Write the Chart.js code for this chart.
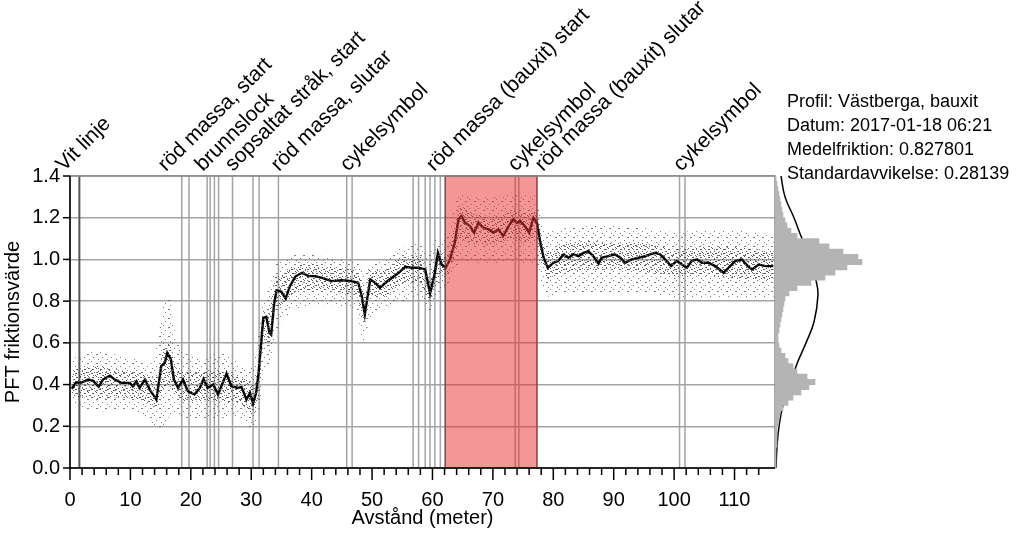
<!DOCTYPE html>
<html>
<head>
<meta charset="utf-8">
<script src="https://cdn.jsdelivr.net/npm/chart.js@4.4.0/dist/chart.umd.min.js"></script>
<style>
  html, body { margin: 0; padding: 0; background: #fff; overflow: hidden; }
  #wrap { position: relative; width: 1024px; height: 537px; }
  canvas { position: absolute; left: 0; top: 0; }
  #hist { pointer-events: none; }
  #info {
    position: absolute; left: 787px; top: 89px; white-space: nowrap;
    font: 18px "Liberation Sans", Arial, sans-serif; line-height: 24px; color: #000;
  }
</style>
</head>
<body>
<div id="wrap">
  <canvas id="main" width="1024" height="537"></canvas>
  <canvas id="hist" width="1024" height="537"></canvas>
  <div id="info">
    Profil: Västberga, bauxit<br>
    Datum: 2017-01-18 06:21<br>
    Medelfriktion: 0.827801<br>
    Standardavvikelse: 0.28139
  </div>
</div>
<script>
// running mean of the friction value (m, value)
const distance = [
  0.3, 1.0, 1.9, 3.0, 3.8, 4.75, 5.46, 6.6, 7.4, 8.5, 9.9, 10.4, 11.0, 11.5, 12.4, 13.2, 14.3,
  15.1, 15.7, 16.1, 16.7, 17.2, 17.9, 18.7, 19.5, 20.6, 21.5, 22.1, 22.8, 23.7, 24.5, 25.9,
  26.7, 27.8, 28.4, 29.2, 29.8, 30.3, 30.8, 31.2, 32.0, 32.5, 33.0, 33.3, 33.8, 34.2, 35.0,
  35.7, 36.4, 37.3, 38.4, 39.5, 40.6, 41.7, 43.3, 45.0, 46.6, 47.7, 48.3, 48.8, 49.7, 50.5,
  51.3, 52.2, 53.3, 54.4, 55.5, 56.6, 57.7, 58.8, 59.6, 60.4, 60.9, 61.5, 62.2, 62.9, 63.7,
  64.3, 64.8, 65.4, 66.2, 66.9, 67.6, 68.4, 69.3, 70.1, 70.9, 71.7, 72.6, 73.4, 74.0, 74.5,
  75.3, 76.0, 76.7, 77.3, 77.8, 78.4, 79.1, 80.0, 80.8, 81.7, 82.5, 83.3, 84.2, 85.0, 85.8,
  86.6, 87.5, 88.0, 89.1, 90.2, 91.1, 91.9, 93.0, 94.1, 95.2, 96.0, 96.9, 97.7, 98.5, 99.5,
  100.4, 101.3, 102.1, 102.9, 103.8, 104.6, 105.7, 106.8, 108.2, 109.0, 110.1, 111.2, 112.2,
  112.9, 114.0, 115.1, 116.4
];
const friction = [
  0.38, 0.41, 0.41, 0.424, 0.419, 0.389, 0.424, 0.443, 0.424, 0.408, 0.408, 0.392, 0.416, 0.384, 0.424, 0.376, 0.328,
  0.488, 0.504, 0.552, 0.52, 0.424, 0.384, 0.424, 0.368, 0.352, 0.384, 0.427, 0.384, 0.40, 0.352, 0.453,
  0.392, 0.384, 0.389, 0.328, 0.36, 0.31, 0.36, 0.45, 0.72, 0.725, 0.65, 0.64, 0.79, 0.852, 0.845,
  0.812, 0.872, 0.918, 0.936, 0.92, 0.92, 0.912, 0.896, 0.90, 0.896, 0.888, 0.824, 0.736, 0.904, 0.888,
  0.864, 0.888, 0.912, 0.936, 0.965, 0.96, 0.96, 0.952, 0.836, 0.936, 1.032, 0.976, 0.96, 1.0, 1.08,
  1.192, 1.208, 1.176, 1.16, 1.128, 1.176, 1.152, 1.144, 1.128, 1.144, 1.112, 1.16, 1.192, 1.176, 1.184,
  1.16, 1.128, 1.20, 1.176, 1.088, 1.008, 0.96, 0.984, 0.992, 1.024, 1.008, 1.024, 1.016, 1.032, 1.04,
  1.016, 0.98, 1.008, 1.016, 1.024, 1.008, 0.984, 1.0, 1.008, 1.016, 1.024, 1.032, 1.024, 1.0, 0.968,
  0.992, 0.976, 0.96, 0.992, 1.0, 0.984, 0.984, 0.968, 0.936, 0.96, 0.992, 1.0, 0.968,
  0.952, 0.976, 0.968, 0.968
];

// extent of the scatter of single measurements
const bandX   = [0.3, 2, 5, 8, 11, 13.5, 14.5, 15.5, 16.5, 17.5, 19, 22, 25, 28, 29.5, 30.5, 31.2, 32, 33, 34, 35, 37, 40, 44, 47.5, 48.3, 48.8, 49.5, 52, 55, 58, 59.6, 60.5, 61.5, 62.5, 63.5, 64.5, 67, 70, 73, 76, 77.3, 78, 79, 82, 86, 90, 95, 100, 105, 110, 116.5];
const outerLo = [0.30, 0.28, 0.27, 0.28, 0.27, 0.22, 0.18, 0.20, 0.25, 0.26, 0.24, 0.24, 0.24, 0.25, 0.20, 0.18, 0.25, 0.45, 0.50, 0.62, 0.70, 0.76, 0.78, 0.78, 0.76, 0.62, 0.60, 0.72, 0.76, 0.80, 0.82, 0.74, 0.82, 0.86, 0.88, 0.92, 1.00, 0.98, 0.98, 0.99, 0.98, 0.98, 0.88, 0.82, 0.84, 0.84, 0.84, 0.84, 0.82, 0.82, 0.82, 0.82];
const outerHi = [0.52, 0.55, 0.56, 0.54, 0.52, 0.50, 0.60, 0.80, 0.82, 0.62, 0.55, 0.52, 0.56, 0.50, 0.48, 0.50, 0.65, 0.82, 0.86, 0.98, 1.00, 1.02, 1.03, 1.00, 1.00, 0.95, 0.92, 0.98, 1.00, 1.06, 1.08, 1.02, 1.10, 1.08, 1.12, 1.25, 1.32, 1.30, 1.30, 1.32, 1.32, 1.30, 1.18, 1.14, 1.15, 1.16, 1.16, 1.15, 1.13, 1.14, 1.14, 1.12];
const innerLo = [0.34, 0.34, 0.33, 0.34, 0.33, 0.30, 0.28, 0.38, 0.40, 0.34, 0.32, 0.32, 0.32, 0.31, 0.27, 0.26, 0.32, 0.60, 0.58, 0.76, 0.78, 0.84, 0.85, 0.84, 0.83, 0.74, 0.68, 0.82, 0.82, 0.88, 0.89, 0.78, 0.88, 0.92, 0.92, 1.00, 1.10, 1.07, 1.07, 1.10, 1.08, 1.10, 1.00, 0.90, 0.94, 0.95, 0.95, 0.94, 0.92, 0.92, 0.91, 0.90];
const innerHi = [0.47, 0.48, 0.49, 0.47, 0.46, 0.44, 0.44, 0.58, 0.60, 0.48, 0.46, 0.46, 0.47, 0.44, 0.42, 0.40, 0.50, 0.76, 0.74, 0.92, 0.92, 0.97, 0.98, 0.96, 0.95, 0.90, 0.82, 0.95, 0.95, 1.01, 1.02, 0.90, 1.00, 1.03, 1.02, 1.14, 1.26, 1.22, 1.20, 1.24, 1.22, 1.24, 1.12, 1.03, 1.08, 1.09, 1.08, 1.08, 1.05, 1.06, 1.06, 1.04];

// event markers along the profile (m)
const markerX = [1.55, 18.5, 19.7, 22.7, 23.2, 23.9, 24.6, 26.9, 30.3, 31.3, 34.5, 45.8, 46.7, 56.8, 57.7, 58.8, 59.6, 60.4, 61.3, 62.1, 73.7, 74.3, 77.3, 100.9, 101.8];
const eventLabels = ["Vit linje", "röd massa, start", "brunnslock", "sopsaltat stråk, start", "röd massa, slutar", "cykelsymbol", "röd massa (bauxit) start", "cykelsymbol", "röd massa (bauxit) slutar", "cykelsymbol"];
const eventLabelAt = [-1.0, 15.9, 22.0, 27.0, 34.6, 46.0, 60.3, 73.8, 78.3, 101.2];
const bauxitSpan = [62.1, 77.3];

// histogram of all values (bin start, bar length) and fitted normal curve
const histBin = [0.0, 0.025, 0.05, 0.075, 0.1, 0.125, 0.15, 0.175, 0.2, 0.225, 0.25, 0.275, 0.3, 0.325, 0.35, 0.375, 0.4, 0.425, 0.45, 0.475, 0.5, 0.525, 0.55, 0.575, 0.6, 0.625, 0.65, 0.675, 0.7, 0.725, 0.75, 0.775, 0.8, 0.825, 0.85, 0.875, 0.9, 0.925, 0.95, 0.975, 1.0, 1.025, 1.05, 1.075, 1.1, 1.125, 1.15, 1.175, 1.2, 1.225, 1.25, 1.275, 1.3, 1.325, 1.35, 1.375];
const histCount = [1, 1, 1, 1, 2, 2, 2, 2, 3, 4, 5, 8, 13, 18, 26, 34, 40, 32, 22, 18, 13, 10, 6, 4, 3, 3, 4, 5, 6, 7, 8, 9, 10, 14, 22, 36, 50, 60, 72, 87, 83, 68, 54, 44, 22, 16, 12, 10, 8, 7, 6, 5, 4, 3, 2, 1];
const curveVal = [0.0, 0.1, 0.2, 0.3, 0.4, 0.5, 0.6, 0.7, 0.83, 0.9, 1.0, 1.1, 1.2, 1.3, 1.4];
const curveLen = [1, 2, 4, 8, 15, 22, 31, 39, 43, 41, 36, 27, 19, 10, 6];

const FONT = '"Liberation Sans", Arial, sans-serif';

function makePattern(size, dots, color) {
  const c = document.createElement('canvas');
  c.width = size;
  c.height = size;
  const g = c.getContext('2d');
  g.fillStyle = color;
  dots.forEach(([x, y, w]) => g.fillRect(x, y, w || 1, 1));
  return g.createPattern(c, 'repeat');
}

const sparseDots = makePattern(9, [[1, 1], [6, 3, 2], [3, 6], [8, 8]], 'rgba(100,100,100,0.85)');
const denseDots = makePattern(8, [[0, 0], [4, 1, 2], [2, 3], [6, 4], [3, 5, 2], [1, 6], [7, 7]], 'rgba(60,60,60,0.85)');

const pts = (xs, ys) => xs.map((x, i) => ({ x, y: ys[i] }));
const isMajorY = v => Math.round(v * 10) % 2 === 0;

const decor = {
  id: 'decor',
  beforeDatasetsDraw(chart) {
    const { ctx, chartArea: a, scales: { x } } = chart;
    ctx.save();
    markerX.forEach((m, i) => {
      const px = x.getPixelForValue(m);
      ctx.strokeStyle = i === 0 ? '#555' : '#a3a3a3';
      ctx.lineWidth = i === 0 ? 2 : 1.5;
      ctx.beginPath();
      ctx.moveTo(px, a.top);
      ctx.lineTo(px, a.bottom);
      ctx.stroke();
    });
    ctx.restore();
  },
  afterDatasetsDraw(chart) {
    const { ctx, chartArea: a, scales: { x, y } } = chart;
    ctx.save();
    // bauxit section
    const x0 = x.getPixelForValue(bauxitSpan[0]);
    const x1 = x.getPixelForValue(bauxitSpan[1]);
    ctx.fillStyle = 'rgba(234,45,45,0.5)';
    ctx.fillRect(x0, a.top, x1 - x0, a.bottom - a.top);
    ctx.strokeStyle = 'rgba(110,40,40,0.9)';
    ctx.lineWidth = 1;
    ctx.strokeRect(x0, a.top, x1 - x0, a.bottom - a.top);

    // frame
    ctx.strokeStyle = '#8a8a8a';
    ctx.lineWidth = 1.5;
    ctx.strokeRect(a.left, a.top, a.right - a.left, a.bottom - a.top);
    ctx.strokeStyle = '#000';
    ctx.lineWidth = 1.5;
    ctx.beginPath();
    ctx.moveTo(a.left, a.top);
    ctx.lineTo(a.left, a.bottom);
    ctx.lineTo(a.right, a.bottom);
    ctx.stroke();

    // tick marks
    ctx.lineWidth = 1.5;
    x.ticks.forEach(t => {
      if (Math.abs(t.value - Math.round(t.value)) > 0.01) return;
      const px = x.getPixelForValue(t.value);
      const len = Math.round(t.value) % 10 === 0 ? 12 : 7;
      ctx.beginPath();
      ctx.moveTo(px, a.bottom);
      ctx.lineTo(px, a.bottom + len);
      ctx.stroke();
    });
    y.ticks.forEach(t => {
      const py = y.getPixelForValue(t.value);
      ctx.beginPath();
      if (isMajorY(t.value)) {
        ctx.moveTo(a.left - 7, py);
        ctx.lineTo(a.left, py);
      } else {
        ctx.moveTo(a.left, py);
        ctx.lineTo(a.left + 7, py);
      }
      ctx.stroke();
    });

    // event labels
    ctx.fillStyle = '#000';
    ctx.font = '21px ' + FONT;
    ctx.textAlign = 'left';
    ctx.textBaseline = 'alphabetic';
    eventLabels.forEach((txt, i) => {
      ctx.save();
      ctx.translate(x.getPixelForValue(eventLabelAt[i]), a.top - 4);
      ctx.rotate(-Math.PI / 4);
      ctx.fillText(txt, 0, 0);
      ctx.restore();
    });
    ctx.restore();
  }
};

const bandStyle = { pointRadius: 0, borderWidth: 0, borderColor: 'rgba(0,0,0,0)', tension: 0 };

const mainChart = new Chart(document.getElementById('main'), {
  type: 'line',
  data: {
    datasets: [
      { ...bandStyle, data: pts(bandX, outerHi), fill: '+1', backgroundColor: sparseDots },
      { ...bandStyle, data: pts(bandX, outerLo), fill: false },
      { ...bandStyle, data: pts(bandX, innerHi), fill: '+1', backgroundColor: denseDots },
      { ...bandStyle, data: pts(bandX, innerLo), fill: false },
      {
        data: pts(distance, friction),
        borderColor: '#000',
        borderWidth: 2.4,
        pointRadius: 0,
        tension: 0,
        fill: false
      }
    ]
  },
  options: {
    responsive: false,
    animation: false,
    layout: { padding: { top: 176, right: 249, left: 0, bottom: 0 } },
    plugins: { legend: { display: false }, tooltip: { enabled: false } },
    scales: {
      x: {
        type: 'linear',
        min: 0,
        max: 116.7,
        afterFit: s => { s.height = 69; },
        border: { display: false },
        grid: { drawOnChartArea: false, drawTicks: false },
        ticks: {
          stepSize: 2,
          autoSkip: false,
          maxRotation: 0,
          padding: 20,
          color: '#000',
          font: { family: FONT, size: 20 },
          callback: v => (Math.abs(v % 10) < 0.001 ? String(Math.round(v)) : '')
        },
        title: {
          display: true,
          text: 'Avstånd (meter)',
          color: '#000',
          font: { family: FONT, size: 20 },
          padding: { top: 0, bottom: 7 }
        }
      },
      y: {
        min: 0,
        max: 1.4,
        afterFit: s => { s.width = 70; },
        border: { display: false },
        grid: {
          drawTicks: false,
          lineWidth: 1.5,
          color: c => (isMajorY(c.tick.value) ? '#a3a3a3' : 'rgba(0,0,0,0)')
        },
        ticks: {
          stepSize: 0.1,
          padding: 10,
          color: '#000',
          font: { family: FONT, size: 20 },
          callback: v => (isMajorY(v) ? v.toFixed(1) : '')
        },
        title: {
          display: true,
          text: 'PFT friktionsvärde',
          color: '#000',
          font: { family: FONT, size: 20 },
          padding: { top: 1, bottom: 0 }
        }
      }
    }
  },
  plugins: [decor]
});

const area = mainChart.chartArea;

new Chart(document.getElementById('hist'), {
  type: 'bar',
  data: {
    datasets: [
      {
        type: 'bar',
        data: histBin.map((b, i) => ({ x: histCount[i], y: b + 0.0125 })),
        backgroundColor: '#b4b4b4',
        borderWidth: 0,
        barPercentage: 1,
        categoryPercentage: 1
      },
      {
        type: 'line',
        data: pts(curveLen, curveVal),
        borderColor: '#000',
        borderWidth: 1.5,
        pointRadius: 0,
        tension: 0.4,
        fill: false
      }
    ]
  },
  options: {
    indexAxis: 'y',
    responsive: false,
    animation: false,
    layout: { padding: { left: area.right, top: area.top, bottom: 537 - area.bottom, right: 0 } },
    plugins: { legend: { display: false }, tooltip: { enabled: false } },
    scales: {
      x: { type: 'linear', min: 0, max: 1024 - area.right, display: false },
      y: { type: 'linear', min: 0, max: 1.4, offset: false, display: false }
    }
  }
});
</script>
</body>
</html>
